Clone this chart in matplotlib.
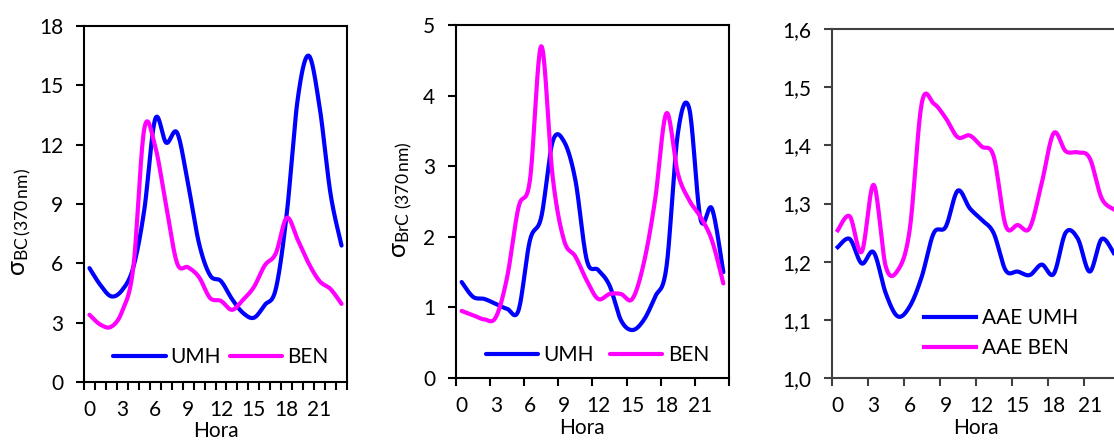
import matplotlib
matplotlib.use("Agg")
import matplotlib.pyplot as plt
import numpy as np

plt.rcParams['font.family'] = ['Lato', 'DejaVu Sans']
plt.rcParams['mathtext.fontset'] = 'custom'
plt.rcParams['mathtext.rm'] = 'Lato'
plt.rcParams['mathtext.it'] = 'Lato:italic'

hours = np.arange(24)
hour_labels = ['0', '3', '6', '9', '12', '15', '18', '21']

# sigma BC (370 nm)
bc_umh = [5.76, 4.9, 4.33, 4.66, 5.8, 8.7, 13.3, 12.1, 12.6, 10.0, 7.0, 5.4,
          5.1, 4.2, 3.5, 3.25, 3.9, 4.7, 8.5, 14.3, 16.5, 13.9, 9.5, 6.9]
bc_ben = [3.4, 2.9, 2.8, 3.6, 5.8, 12.8, 11.9, 8.9, 6.0, 5.8, 5.3, 4.25,
          4.1, 3.65, 4.15, 4.8, 5.9, 6.5, 8.3, 7.2, 6.0, 5.1, 4.7, 3.95]

# sigma BrC (370 nm)
brc_umh = [1.36, 1.15, 1.12, 1.05, 0.98, 0.96, 1.95, 2.28, 3.35, 3.35, 2.8, 1.67,
           1.53, 1.31, 0.82, 0.68, 0.82, 1.15, 1.57, 3.46, 3.82, 2.25, 2.4, 1.5]
brc_ben = [0.95, 0.89, 0.83, 0.86, 1.43, 2.42, 2.8, 4.7, 2.85, 1.95, 1.72, 1.38,
           1.12, 1.19, 1.19, 1.12, 1.62, 2.52, 3.75, 2.9, 2.52, 2.28, 1.95, 1.34]

# AAE
aae_umh = [1.225, 1.239, 1.197, 1.216, 1.146, 1.106, 1.123, 1.174, 1.249, 1.26, 1.322, 1.292,
           1.272, 1.249, 1.185, 1.183, 1.177, 1.195, 1.179, 1.25, 1.24, 1.183, 1.239, 1.215]
aae_ben = [1.254, 1.278, 1.217, 1.332, 1.192, 1.185, 1.255, 1.472, 1.472, 1.447, 1.414, 1.417,
           1.398, 1.381, 1.262, 1.263, 1.258, 1.335, 1.421, 1.39, 1.388, 1.378, 1.309, 1.29]


def smooth(x, y, n=20):
    # Excel-style smoothed line (Catmull-Rom)
    x = np.asarray(x, float)
    y = np.asarray(y, float)
    px = np.concatenate([[x[0]], x, [x[-1]]])
    py = np.concatenate([[y[0]], y, [y[-1]]])
    xs, ys = [], []
    t = np.linspace(0, 1, n, endpoint=False)
    for i in range(1, len(px) - 2):
        p0, p1, p2, p3 = py[i - 1], py[i], py[i + 1], py[i + 2]
        q0, q1, q2, q3 = px[i - 1], px[i], px[i + 1], px[i + 2]
        m1, m2 = (p2 - p0) / 2, (p3 - p1) / 2
        k1, k2 = (q2 - q0) / 2, (q3 - q1) / 2
        h00 = 2 * t**3 - 3 * t**2 + 1
        h10 = t**3 - 2 * t**2 + t
        h01 = -2 * t**3 + 3 * t**2
        h11 = t**3 - t**2
        ys.append(h00 * p1 + h10 * m1 + h01 * p2 + h11 * m2)
        xs.append(h00 * q1 + h10 * k1 + h01 * q2 + h11 * k2)
    xs.append([x[-1]])
    ys.append([y[-1]])
    return np.concatenate(xs), np.concatenate(ys)


fig = plt.figure(figsize=(11.14, 4.44), dpi=100)
ax1 = fig.add_axes([0.0754, 0.1396, 0.2361, 0.8018])
ax2 = fig.add_axes([0.4093, 0.1486, 0.2451, 0.795])
ax3 = fig.add_axes([0.7466, 0.1486, 0.2585, 0.786])

blue = '#0000FF'
mag = '#FF00FF'
fs = 15
lfs = 15


def setup(ax, step, spine_col, hora_x, hora_y):
    ax.set_xlim(-0.5, 23.5)
    ax.set_xticks(range(0, 24, 3))
    ax.set_xticklabels(hour_labels)
    ax.set_xticks(np.arange(-0.5, 24, step), minor=True)
    ax.tick_params(axis='x', which='major', length=0, pad=13, labelsize=fs)
    ax.tick_params(axis='x', which='minor', length=6, width=1.5, color=spine_col)
    ax.tick_params(axis='y', length=6, width=1.5, pad=9, labelsize=fs, color=spine_col)
    for s in ax.spines.values():
        s.set_linewidth(1.5)
        s.set_color(spine_col)
    ax.set_xlabel('Hora', fontsize=15, va='center')
    ax.xaxis.set_label_coords(hora_x, hora_y)


for ax, a, b in [(ax1, bc_umh, bc_ben), (ax2, brc_umh, brc_ben)]:
    xs, ys = smooth(hours, a)
    ax.plot(xs, ys, color=blue, lw=3, label='UMH', solid_capstyle='round')
    xs, ys = smooth(hours, b)
    ax.plot(xs, ys, color=mag, lw=3, label='BEN', solid_capstyle='round')

setup(ax1, 1, 'black', 0.50, -0.138)
ax1.set_ylim(0, 18)
ax1.set_yticks(range(0, 19, 3))
ax1.legend(loc='center', bbox_to_anchor=(0.52, 0.07), ncol=2, frameon=False,
           fontsize=lfs, handlelength=2.5, handletextpad=0.25, columnspacing=0.4)
fig.text(0.02, 0.5, r'σ$_{\rm BC\,(370\,nm)}$', rotation=90, fontsize=18,
         ha='center', va='center')

setup(ax2, 3, 'black', 0.46, -0.142)
ax2.set_ylim(0, 5)
ax2.set_yticks(range(0, 6))
ax2.legend(loc='center', bbox_to_anchor=(0.518, 0.065), ncol=2, frameon=False,
           fontsize=lfs, handlelength=2.5, handletextpad=0.25, columnspacing=0.8)
fig.text(0.362, 0.55, r'σ$_{\rm BrC\ (370\,nm)}$', rotation=90, fontsize=18,
         ha='center', va='center')

xs, ys = smooth(hours, aae_umh)
ax3.plot(xs, ys, color=blue, lw=3, label='AAE UMH')
xs, ys = smooth(hours, aae_ben)
ax3.plot(xs, ys, color=mag, lw=3, label='AAE BEN')
setup(ax3, 3, '#404040', 0.50, -0.142)
ax3.set_ylim(1.0, 1.6)
aae_ticks = [1.0, 1.1, 1.2, 1.3, 1.4, 1.5, 1.6]
ax3.set_yticks(aae_ticks)
ax3.set_yticklabels([f'{v:.1f}'.replace('.', ',') for v in aae_ticks])
ax3.legend(loc='center', bbox_to_anchor=(0.588, 0.129), ncol=1, frameon=False,
           fontsize=lfs, handlelength=2.5, handletextpad=0.25, labelspacing=0.5)

fig.savefig('out.png', dpi=100)
